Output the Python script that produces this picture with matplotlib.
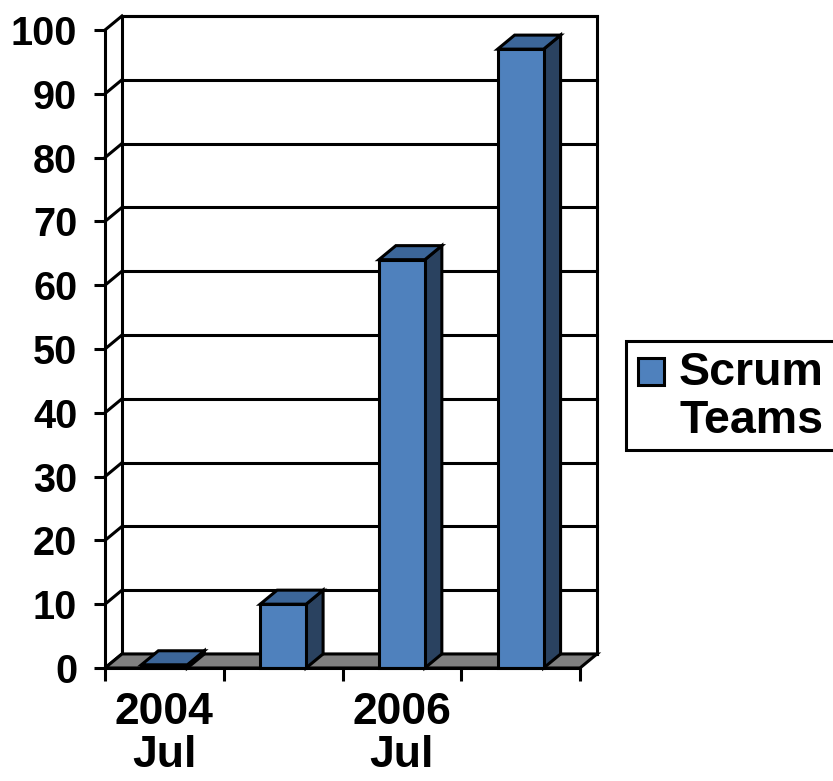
import matplotlib.pyplot as plt
from matplotlib.patches import Polygon, Rectangle

plt.rcParams['font.family'] = ['Liberation Sans', 'DejaVu Sans']
plt.rcParams['font.weight'] = 'bold'

# data
categories = ['2004\nJul', '', '2006\nJul', '']
scrum_teams = [0.5, 10, 64, 97]
y_ticks = list(range(0, 101, 10))

FRONT = '#4F81BD'
SIDE = '#2A4260'
TOP = '#3C6699'
FLOOR = '#808080'
LW = 2.2

fig = plt.figure(figsize=(8.33, 7.81), dpi=100)
ax = fig.add_axes([105 / 833, 1 - 668 / 781, 475 / 833, 638 / 781])
n = len(categories)
ax.set_xlim(0, n)
ax.set_ylim(0, 100)

# depth offset of the 3d box, in data units
dx, dy = 0.143, 2.2
bw = 0.387

# back wall and grid
ax.add_patch(Rectangle((dx, dy), n, 100, facecolor='white', edgecolor='black',
                       lw=LW, clip_on=False, zorder=1))
for v in y_ticks:
    ax.plot([dx, n + dx], [v + dy, v + dy], color='black', lw=LW, clip_on=False, zorder=2)
    ax.plot([0, dx], [v, v + dy], color='black', lw=LW, clip_on=False, zorder=2)

# floor
ax.add_patch(Polygon([(0, 0), (n, 0), (n + dx, dy), (dx, dy)], closed=True,
                     facecolor=FLOOR, edgecolor='black', lw=LW, clip_on=False, zorder=3))

# bars
for i, v in enumerate(scrum_teams):
    x0 = i + 0.5 - bw / 2
    x1 = i + 0.5 + bw / 2
    side = [(x1, 0), (x1 + dx, dy), (x1 + dx, v + dy), (x1, v)]
    top = [(x0, v), (x1, v), (x1 + dx, v + dy), (x0 + dx, v + dy)]
    ax.add_patch(Polygon(side, closed=True, facecolor=SIDE, edgecolor='black',
                         lw=LW, clip_on=False, zorder=4))
    ax.add_patch(Polygon(top, closed=True, facecolor=TOP, edgecolor='black',
                         lw=LW, clip_on=False, zorder=4))
    ax.add_patch(Rectangle((x0, 0), bw, v, facecolor=FRONT, edgecolor='black',
                           lw=LW, clip_on=False, zorder=5))

# axes
for s in ['top', 'right']:
    ax.spines[s].set_visible(False)
for s in ['left', 'bottom']:
    ax.spines[s].set_linewidth(LW)
    ax.spines[s].set_zorder(6)
ax.set_yticks(y_ticks)
ax.tick_params(axis='y', length=8, width=LW, labelsize=28.5, pad=12)
ax.set_xticks(range(n + 1))
ax.set_xticklabels([])
ax.set_xticks([i + 0.5 for i in range(n)], minor=True)
ax.set_xticklabels(categories, minor=True)
ax.tick_params(axis='x', which='major', length=9, width=LW)
ax.tick_params(axis='x', which='minor', length=0, labelsize=32, pad=17)
for lab in ax.get_xticklabels(minor=True):
    lab.set_linespacing(1.08)

# legend box, cut off at the right edge like the original
fig.patches.append(Rectangle((626 / 833, 1 - 450 / 781), 0.3, 109 / 781,
                             transform=fig.transFigure, facecolor='white',
                             edgecolor='black', lw=LW))
fig.patches.append(Rectangle((638 / 833, 1 - 385 / 781), 26 / 833, 27 / 781,
                             transform=fig.transFigure, facecolor=FRONT,
                             edgecolor='black', lw=LW))
fig.text(679 / 833, 1 - 397 / 781, 'Scrum\nTeams', fontsize=33.5, fontweight='bold',
         ha='left', va='center', linespacing=1.1)

fig.savefig('out.png', dpi=100)
